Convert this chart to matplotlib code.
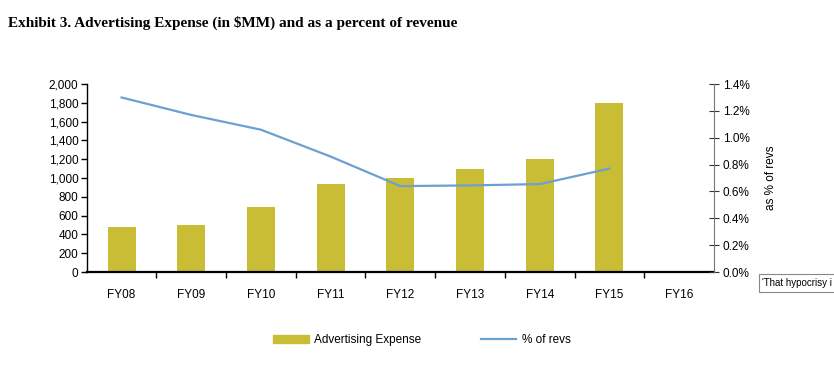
import matplotlib.pyplot as plt
import matplotlib.ticker as mticker
from matplotlib.patches import Patch, Rectangle
from matplotlib.lines import Line2D

plt.rcParams['font.family'] = ['Liberation Sans', 'DejaVu Sans']

years = ['FY08', 'FY09', 'FY10', 'FY11', 'FY12', 'FY13', 'FY14', 'FY15', 'FY16']
ad_expense = [480, 500, 690, 935, 1000, 1100, 1200, 1800]    # $MM
pct_revs = [1.30, 1.17, 1.06, 0.86, 0.64, 0.645, 0.655, 0.77]  # %

bar_color = '#C9BD35'
line_color = '#6E9FD3'

fig = plt.figure(figsize=(8.34, 3.77), dpi=100)
ax = fig.add_axes([0.104, 0.2785, 0.752, 0.4985])

x = list(range(len(years)))
ax.bar(x[:len(ad_expense)], ad_expense, width=0.4, color=bar_color)
ax.set_xlim(-0.5, len(years) - 0.5)
ax.set_ylim(0, 2000)
ax.set_yticks(range(0, 2001, 200))
ax.yaxis.set_major_formatter(mticker.FuncFormatter(lambda v, p: f'{int(v):,}'))
ax.set_xticks(x)
ax.set_xticklabels(years)
ax.set_xticks([i + 0.5 for i in x[:-1]], minor=True)
ax.tick_params(axis='x', which='major', length=0, pad=12, labelsize=8.5)
ax.tick_params(axis='x', which='minor', length=4, width=1)
ax.tick_params(axis='y', length=4, width=1, labelsize=8.5, pad=2)
for s in ['top', 'right']:
    ax.spines[s].set_visible(False)
ax.spines['left'].set_linewidth(1)
ax.spines['bottom'].set_linewidth(1.6)

ax2 = ax.twinx()
ax2.plot(x[:len(pct_revs)], pct_revs, color=line_color, lw=1.6)
ax2.set_ylim(0, 1.4)
ax2.set_yticks([i / 10 for i in range(0, 15, 2)])
ax2.yaxis.set_major_formatter(mticker.FuncFormatter(lambda v, p: f'{v:.1f}%'))
ax2.tick_params(axis='y', direction='inout', length=7, width=0.8, labelsize=8.5,
                colors='#333333', labelcolor='black', pad=3)
for s in ['top', 'left', 'bottom']:
    ax2.spines[s].set_visible(False)
ax2.spines['right'].set_color('#777777')
ax2.spines['right'].set_linewidth(0.8)
ax2.set_ylabel('as % of revs', fontsize=8.5, labelpad=11)

fig.text(0.009, 0.94, 'Exhibit 3. Advertising Expense (in $MM) and as a percent of revenue',
         fontsize=11, fontweight='bold', family='Liberation Serif', va='center')

handles = [Patch(color=bar_color), Line2D([0], [0], color=line_color, lw=1.6)]
fig.legend(handles, ['Advertising Expense', '% of revs'], loc='center',
           bbox_to_anchor=(0.506, 0.098), ncol=2, frameon=False, fontsize=8.5,
           handlelength=3.0, handleheight=0.7, columnspacing=5, handletextpad=0.5)

# browser tooltip captured in the screenshot, cut off at the right edge
fig.patches.append(Rectangle((0.910, 0.225), 0.1, 0.048, transform=fig.transFigure,
                             fc='white', ec='#888888', lw=0.8))
fig.text(0.914, 0.249, "'That hypocrisy i", fontsize=7, va='center', ha='left')

fig.savefig('out.png', dpi=100)
